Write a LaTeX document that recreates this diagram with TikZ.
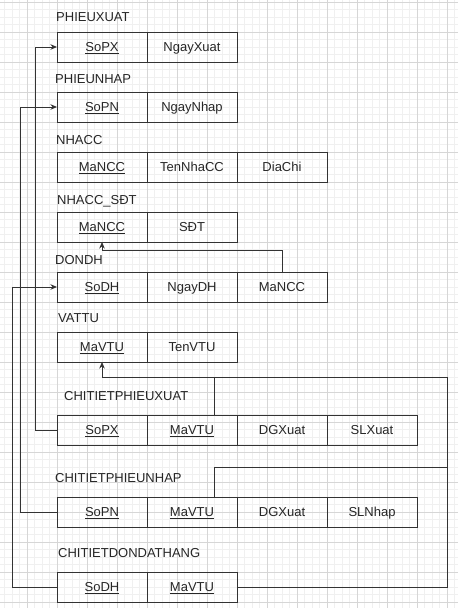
\documentclass[tikz,border=0pt]{standalone}
\usepackage{fontspec}
\setmainfont{Liberation Sans}
\usetikzlibrary{positioning, arrows.meta}
\definecolor{gridminor}{HTML}{F0F0F0}
\definecolor{gridmajor}{HTML}{D6D6D6}
\definecolor{ink}{HTML}{333333}
\tikzset{cell/.style={draw=ink, line width=0.9pt, inner sep=0pt, outer sep=0pt, minimum width=90pt, minimum height=30pt, text height=9.3pt, text depth=0pt, font=\fontsize{13}{15}\selectfont, text=black!85},
title/.style={anchor=west, inner sep=0pt, text height=9.3pt, text depth=0pt, font=\fontsize{13}{15}\selectfont, text=black!85},
link/.style={draw=ink, line width=0.8pt},
fk/.style={link, -{Stealth[length=6.5pt, width=5.5pt]}}}

\begin{document}
\begin{tikzpicture}[x=1pt, y=-1pt, node distance=0pt]
  \useasboundingbox (0,0) rectangle (458,608);
  % grid
  \foreach \gx in {4.5,12,...,457} \draw[gridminor, line width=0.5pt] (\gx,0) -- (\gx,608);
  \foreach \gy in {2,9.5,...,608} \draw[gridminor, line width=0.5pt] (0,\gy) -- (458,\gy);
  \foreach \gx in {27,57,...,457} \draw[gridmajor, line width=0.6pt] (\gx,0) -- (\gx,608);
  \foreach \gy in {2,32,...,608} \draw[gridmajor, line width=0.6pt] (0,\gy) -- (458,\gy);
  % tables
  \node[title] (t_px) at (56,17) {PHIEUXUAT};
  \node[cell] (px_so) at (102,47) {\underline{SoPX}};
  \node[cell, right=of px_so] (px_ngay) {NgayXuat};
  \node[title] (t_pn) at (55,79) {PHIEUNHAP};
  \node[cell] (pn_so) at (102,107) {\underline{SoPN}};
  \node[cell, right=of pn_so] (pn_ngay) {NgayNhap};
  \node[title] (t_ncc) at (56,140) {NHACC};
  \node[cell] (ncc_ma) at (102,167) {\underline{MaNCC}};
  \node[cell, right=of ncc_ma] (ncc_ten) {TenNhaCC};
  \node[cell, right=of ncc_ten] (ncc_dc) {DiaChi};
  \node[title] (t_ncs) at (57,200) {NHACC\_SĐT};
  \node[cell] (ncs_ma) at (102,227) {\underline{MaNCC}};
  \node[cell, right=of ncs_ma] (ncs_sdt) {SĐT};
  \node[title] (t_dh) at (55,260) {DONDH};
  \node[cell] (dh_so) at (102,287) {\underline{SoDH}};
  \node[cell, right=of dh_so] (dh_ngay) {NgayDH};
  \node[cell, right=of dh_ngay] (dh_ncc) {MaNCC};
  \node[title] (t_vt) at (58,318) {VATTU};
  \node[cell] (vt_ma) at (102,347) {\underline{MaVTU}};
  \node[cell, right=of vt_ma] (vt_ten) {TenVTU};
  \node[title] (t_ctpx) at (64,396) {CHITIETPHIEUXUAT};
  \node[cell] (ctpx_so) at (102,430) {\underline{SoPX}};
  \node[cell, right=of ctpx_so] (ctpx_ma) {\underline{MaVTU}};
  \node[cell, right=of ctpx_ma] (ctpx_dg) {DGXuat};
  \node[cell, right=of ctpx_dg] (ctpx_sl) {SLXuat};
  \node[title] (t_ctpn) at (55,478) {CHITIETPHIEUNHAP};
  \node[cell] (ctpn_so) at (102,512) {\underline{SoPN}};
  \node[cell, right=of ctpn_so] (ctpn_ma) {\underline{MaVTU}};
  \node[cell, right=of ctpn_ma] (ctpn_dg) {DGXuat};
  \node[cell, right=of ctpn_dg] (ctpn_sl) {SLNhap};
  \node[title] (t_ctdh) at (58,553) {CHITIETDONDATHANG};
  \node[cell] (ctdh_so) at (102,587) {\underline{SoDH}};
  \node[cell, right=of ctdh_so] (ctdh_ma) {\underline{MaVTU}};
  % foreign keys
  \draw[fk] (ctpx_so.west) -- ++(-22,0) |- (px_so.west);
  \draw[fk] (ctpn_so.west) -- ++(-37,0) |- (pn_so.west);
  \draw[fk] (ctdh_so.west) -- ++(-45,0) |- (dh_so.west);
  \draw[fk] (dh_ncc.north) -- ++(0,-22) -| (ncs_ma.south);
  \coordinate (bus) at (447,377);
  \draw[fk] (bus) -- (bus -| vt_ma.south) -- (vt_ma.south);
  \draw[link] ([xshift=22pt]ctpx_ma.north) |- (bus);
  \draw[link] ([xshift=22pt]ctpn_ma.north) -- ++(0,-30) -| (bus);
  \draw[link] (ctdh_ma.east) -| (bus);
\end{tikzpicture}
\end{document}
